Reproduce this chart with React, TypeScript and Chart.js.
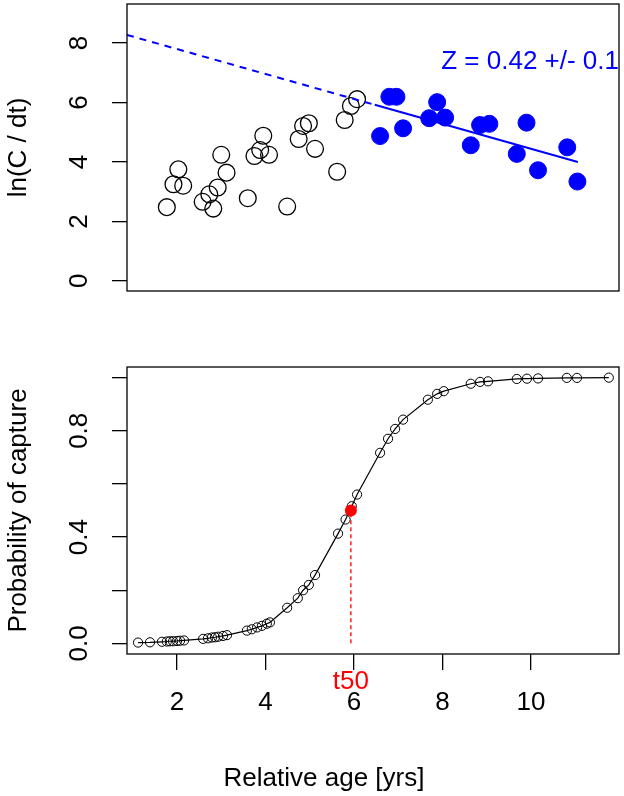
import { useEffect, useRef } from "react";
import { Chart, registerables } from "chart.js";

Chart.register(...registerables);

const FONT = "'Liberation Sans', Arial, Helvetica, sans-serif";
Chart.defaults.font.family = FONT;
Chart.defaults.color = "#000";

// upper panel: ln(C/dt) against relative age
const openAge = [1.77, 1.92, 2.03, 2.14, 2.58, 2.73, 2.82, 2.92, 3.0, 3.12, 3.6, 3.75, 3.88, 3.95, 4.08, 4.49, 4.75, 4.85, 4.98, 5.12, 5.62, 5.79, 5.93, 6.07];
const openLnC = [2.48, 3.25, 3.75, 3.2, 2.66, 2.91, 2.43, 3.14, 4.24, 3.64, 2.78, 4.2, 4.4, 4.88, 4.24, 2.5, 4.77, 5.21, 5.3, 4.44, 3.67, 5.41, 5.88, 6.11];
const fitAge = [6.59, 6.8, 6.96, 7.11, 7.7, 7.88, 8.06, 8.64, 8.85, 9.06, 9.68, 9.9, 10.16, 10.82, 11.05];
const fitLnC = [4.87, 6.19, 6.19, 5.13, 5.47, 6.01, 5.49, 4.56, 5.24, 5.28, 4.27, 5.32, 3.72, 4.49, 3.34];
const extrapAge = [0.87, 6.4];
const extrapLnC = [8.27, 5.95];
const regAge = [6.47, 11.06];
const regLnC = [5.92, 4.0];
const zLabel = "Z = 0.42 +/- 0.1";
const lnTicks = [0, 2, 4, 6, 8];

// lower panel: probability of capture
const selAge = [1.12, 1.39, 1.66, 1.77, 1.84, 1.91, 2.0, 2.07, 2.16, 2.59, 2.7, 2.79, 2.86, 2.93, 3.04, 3.13, 3.58, 3.69, 3.81, 3.92, 4.03, 4.1, 4.49, 4.73, 4.85, 4.98, 5.12, 5.64, 5.81, 5.95, 6.07, 6.59, 6.77, 6.93, 7.11, 7.67, 7.88, 8.03, 8.64, 8.85, 9.03, 9.68, 9.91, 10.16, 10.81, 11.04, 11.76];
const selProb = [0.003, 0.004, 0.006, 0.007, 0.008, 0.008, 0.009, 0.01, 0.011, 0.017, 0.019, 0.022, 0.023, 0.025, 0.028, 0.031, 0.048, 0.053, 0.06, 0.066, 0.074, 0.079, 0.134, 0.17, 0.2, 0.22, 0.257, 0.413, 0.466, 0.516, 0.56, 0.717, 0.77, 0.807, 0.842, 0.917, 0.939, 0.949, 0.977, 0.984, 0.986, 0.995, 0.996, 0.997, 0.999, 0.999, 1.0];
const t50 = 5.93;
const t50Drop = [0, 0.5];
const ageTicks = [2, 4, 6, 8, 10];
const probTicks = [0, 0.2, 0.4, 0.6, 0.8, 1.0];
const probLabels = ["0.0", "0.4", "0.8"];

const AGE_MIN = 0.87;
const AGE_MAX = 11.99;

const pts = (xs: number[], ys: number[]) => xs.map((x, i) => ({ x, y: ys[i] }));

const frame = {
  id: "frame",
  afterDraw(chart: any) {
    const { ctx, chartArea: a } = chart;
    ctx.save();
    ctx.strokeStyle = "#000";
    ctx.lineWidth = 1.3;
    ctx.strokeRect(a.left, a.top, a.right - a.left, a.bottom - a.top);
    ctx.restore();
  },
};

const tickGrid = (len: number) => ({
  drawOnChartArea: false,
  drawTicks: true,
  tickLength: len,
  color: "#000",
  lineWidth: 1.3,
});

function CatchCurve() {
  const canvasRef = useRef<HTMLCanvasElement>(null);

  useEffect(() => {
    if (!canvasRef.current) return;
    const zText = {
      id: "zText",
      afterDraw(chart: any) {
        const { ctx, chartArea: a, scales } = chart;
        ctx.save();
        ctx.fillStyle = "#0000FF";
        ctx.font = `26px ${FONT}`;
        ctx.textAlign = "right";
        ctx.textBaseline = "middle";
        ctx.fillText(zLabel, a.right, scales.y.getPixelForValue(7.36));
        ctx.restore();
      },
    };
    const chart = new Chart(canvasRef.current, {
      type: "scatter",
      data: {
        datasets: [
          {
            data: pts(extrapAge, extrapLnC),
            showLine: true,
            borderColor: "#0000FF",
            borderWidth: 2,
            borderDash: [7, 6],
            pointRadius: 0,
          },
          {
            data: pts(regAge, regLnC),
            showLine: true,
            borderColor: "#0000FF",
            borderWidth: 2,
            pointRadius: 0,
          },
          {
            data: pts(fitAge, fitLnC),
            pointRadius: 8.5,
            pointBackgroundColor: "#0000FF",
            pointBorderColor: "#0000FF",
            pointBorderWidth: 1,
          },
          {
            data: pts(openAge, openLnC),
            pointRadius: 8.4,
            pointBackgroundColor: "rgba(0,0,0,0)",
            pointBorderColor: "#000",
            pointBorderWidth: 1.3,
          },
        ],
      },
      options: {
        animation: false,
        responsive: false,
        events: [],
        layout: { autoPadding: false, padding: { left: 0, top: 4, right: 5, bottom: 49 } },
        plugins: { legend: { display: false }, tooltip: { enabled: false } },
        scales: {
          x: { type: "linear", display: false, min: AGE_MIN, max: AGE_MAX },
          y: {
            type: "linear",
            min: -0.34,
            max: 9.31,
            afterBuildTicks: (s: any) => {
              s.ticks = lnTicks.map((value) => ({ value }));
            },
            afterFit: (s: any) => {
              s.width = 127;
              s.paddingTop = 0;
              s.paddingBottom = 0;
            },
            grid: tickGrid(15),
            border: { display: false },
            ticks: {
              autoSkip: false,
              minRotation: 90,
              maxRotation: 90,
              crossAlign: "center",
              padding: 25,
              font: { size: 26 },
              color: "#000",
              callback: (v: any) => String(v),
            },
            title: {
              display: true,
              text: "ln(C / dt)",
              font: { size: 26 },
              color: "#000",
              padding: { top: 3, bottom: 0 },
            },
          },
        },
      },
      plugins: [frame, zText],
    } as any);
    return () => chart.destroy();
  }, []);

  return <canvas ref={canvasRef} width={624} height={340} style={{ position: "absolute", left: 0, top: 0 }} />;
}

function Selectivity() {
  const canvasRef = useRef<HTMLCanvasElement>(null);

  useEffect(() => {
    if (!canvasRef.current) return;
    const labels = {
      id: "labels",
      afterDraw(chart: any) {
        const { ctx, chartArea: a, scales } = chart;
        ctx.save();
        ctx.font = `26px ${FONT}`;
        ctx.textAlign = "center";
        ctx.fillStyle = "#FF0000";
        ctx.textBaseline = "middle";
        ctx.fillText("t50", scales.x.getPixelForValue(t50), a.bottom + 28);
        ctx.fillStyle = "#000";
        ctx.textBaseline = "alphabetic";
        ctx.fillText("Relative age [yrs]", 324, 446);
        ctx.restore();
      },
    };
    const chart = new Chart(canvasRef.current, {
      type: "scatter",
      data: {
        datasets: [
          {
            data: [{ x: t50, y: 0.5 }],
            pointRadius: 6,
            pointBackgroundColor: "#FF0000",
            pointBorderColor: "#FF0000",
            pointBorderWidth: 0,
          },
          {
            data: t50Drop.map((y) => ({ x: t50, y })),
            showLine: true,
            borderColor: "#FF0000",
            borderWidth: 1.3,
            borderDash: [4, 3],
            pointRadius: 0,
          },
          {
            data: pts(selAge, selProb),
            showLine: true,
            borderColor: "#000",
            borderWidth: 1.2,
            pointRadius: 4.6,
            pointBackgroundColor: "rgba(0,0,0,0)",
            pointBorderColor: "#000",
            pointBorderWidth: 1,
          },
        ],
      },
      options: {
        animation: false,
        responsive: false,
        events: [],
        layout: { autoPadding: false, padding: { left: 0, top: 27, right: 5, bottom: 0 } },
        plugins: { legend: { display: false }, tooltip: { enabled: false } },
        scales: {
          x: {
            type: "linear",
            min: AGE_MIN,
            max: AGE_MAX,
            afterBuildTicks: (s: any) => {
              s.ticks = ageTicks.map((value) => ({ value }));
            },
            afterFit: (s: any) => {
              s.height = 142;
              s.paddingLeft = 0;
              s.paddingRight = 0;
            },
            grid: tickGrid(16),
            border: { display: false },
            ticks: {
              autoSkip: false,
              maxRotation: 0,
              padding: 17,
              font: { size: 26 },
              color: "#000",
              callback: (v: any) => String(v),
            },
          },
          y: {
            type: "linear",
            min: -0.04,
            max: 1.04,
            afterBuildTicks: (s: any) => {
              s.ticks = probTicks.map((value) => ({ value }));
            },
            afterFit: (s: any) => {
              s.width = 127;
              s.paddingTop = 0;
              s.paddingBottom = 0;
            },
            grid: tickGrid(15),
            border: { display: false },
            ticks: {
              autoSkip: false,
              minRotation: 90,
              maxRotation: 90,
              crossAlign: "center",
              padding: 14,
              font: { size: 26 },
              color: "#000",
              callback: (v: any) => {
                const s = Number(v).toFixed(1);
                return probLabels.includes(s) ? s : "";
              },
            },
            title: {
              display: true,
              text: "Probability of capture",
              font: { size: 26 },
              color: "#000",
              padding: { top: 3, bottom: 0 },
            },
          },
        },
      },
      plugins: [frame, labels],
    } as any);
    return () => chart.destroy();
  }, []);

  return <canvas ref={canvasRef} width={624} height={456} style={{ position: "absolute", left: 0, top: 340 }} />;
}

export default function App() {
  return (
    <div style={{ position: "absolute", left: 0, top: 0, width: 624, height: 796, background: "#fff" }}>
      <CatchCurve />
      <Selectivity />
    </div>
  );
}
